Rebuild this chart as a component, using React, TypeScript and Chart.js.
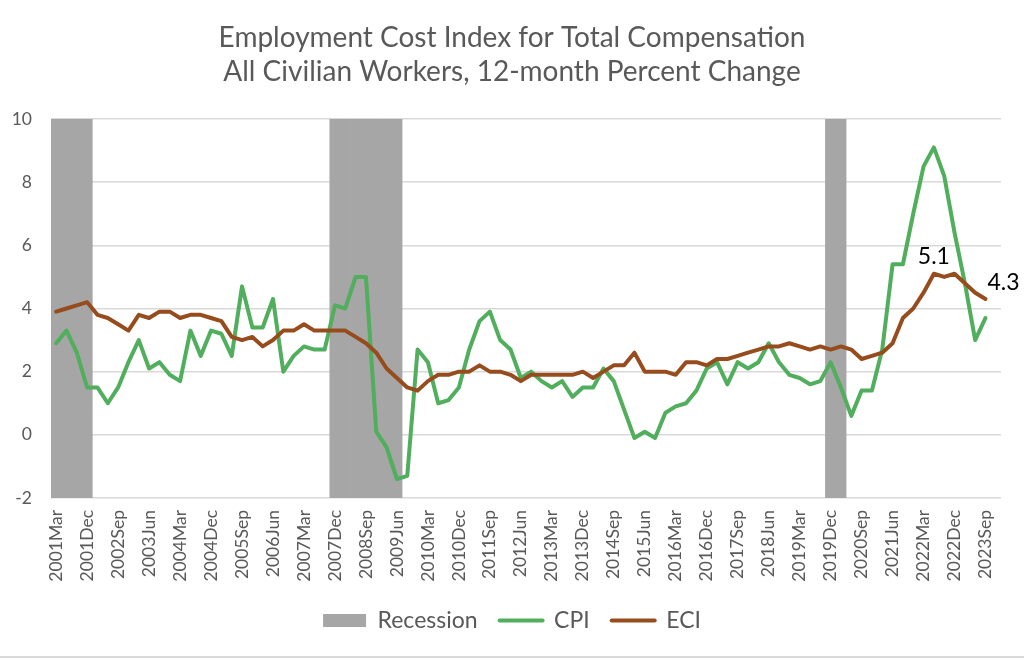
import React, { useEffect, useRef } from 'react';
import { Chart, registerables } from 'chart.js';

Chart.register(...registerables);

// ---- Data ----
const YEARS = [2001, 2002, 2003, 2004, 2005, 2006, 2007, 2008, 2009, 2010, 2011, 2012,
  2013, 2014, 2015, 2016, 2017, 2018, 2019, 2020, 2021, 2022, 2023];
const QUARTER_MONTHS = ['Mar', 'Jun', 'Sep', 'Dec'];
const CATEGORIES: string[] = YEARS.flatMap((y) => QUARTER_MONTHS.map((m) => `${y}${m}`));

const CPI = [
  2.9, 3.3, 2.6, 1.5,
  1.5, 1.0, 1.5, 2.3,
  3.0, 2.1, 2.3, 1.9,
  1.7, 3.3, 2.5, 3.3,
  3.2, 2.5, 4.7, 3.4,
  3.4, 4.3, 2.0, 2.5,
  2.8, 2.7, 2.7, 4.1,
  4.0, 5.0, 5.0, 0.1,
  -0.4, -1.4, -1.3, 2.7,
  2.3, 1.0, 1.1, 1.5,
  2.7, 3.6, 3.9, 3.0,
  2.7, 1.8, 2.0, 1.7,
  1.5, 1.7, 1.2, 1.5,
  1.5, 2.1, 1.7, 0.8,
  -0.1, 0.1, -0.1, 0.7,
  0.9, 1.0, 1.4, 2.1,
  2.3, 1.6, 2.3, 2.1,
  2.3, 2.9, 2.3, 1.9,
  1.8, 1.6, 1.7, 2.3,
  1.5, 0.6, 1.4, 1.4,
  2.7, 5.4, 5.4, 7.0,
  8.5, 9.1, 8.2, 6.4,
  4.8, 3.0, 3.7,
];

const ECI = [
  3.9, 4.0, 4.1, 4.2,
  3.8, 3.7, 3.5, 3.3,
  3.8, 3.7, 3.9, 3.9,
  3.7, 3.8, 3.8, 3.7,
  3.6, 3.1, 3.0, 3.1,
  2.8, 3.0, 3.3, 3.3,
  3.5, 3.3, 3.3, 3.3,
  3.3, 3.1, 2.9, 2.6,
  2.1, 1.8, 1.5, 1.4,
  1.7, 1.9, 1.9, 2.0,
  2.0, 2.2, 2.0, 2.0,
  1.9, 1.7, 1.9, 1.9,
  1.9, 1.9, 1.9, 2.0,
  1.8, 2.0, 2.2, 2.2,
  2.6, 2.0, 2.0, 2.0,
  1.9, 2.3, 2.3, 2.2,
  2.4, 2.4, 2.5, 2.6,
  2.7, 2.8, 2.8, 2.9,
  2.8, 2.7, 2.8, 2.7,
  2.8, 2.7, 2.4, 2.5,
  2.6, 2.9, 3.7, 4.0,
  4.5, 5.1, 5.0, 5.1,
  4.8, 4.5, 4.3,
];

// recession periods (first and last quarter shaded)
const RECESSIONS: [string, string][] = [
  ['2001Mar', '2001Dec'],
  ['2007Dec', '2009Jun'],
  ['2019Dec', '2020Mar'],
];

// ECI points that carry a value label
const ECI_LABEL_POINTS = ['2022Jun', '2023Sep'];

const Y_MIN = -2;
const Y_MAX = 10;
const Y_STEP = 2;
const LABEL_EVERY = 3;

const TITLE_LINES = ['Employment Cost Index for Total Compensation', 'All Civilian Workers, 12-month Percent Change'];

const COLORS = {
  recession: '#a6a6a6',
  cpi: '#50ae5c',
  eci: '#974c1e',
  text: '#595959',
  grid: '#d9d9d9',
};

const FONT = 'Lato, "Open Sans", sans-serif';

export default function App() {
  const canvasRef = useRef<HTMLCanvasElement | null>(null);

  useEffect(() => {
    document.body.style.margin = '0';
    const canvas = canvasRef.current;
    if (!canvas) return;

    const recessionData = CATEGORIES.map((c, i) => {
      const inside = RECESSIONS.some(([a, b]) => i >= CATEGORIES.indexOf(a) && i <= CATEGORIES.indexOf(b));
      return inside ? [Y_MIN, Y_MAX] : null;
    });

    const labelIdx = ECI_LABEL_POINTS.map((c) => CATEGORIES.indexOf(c));

    const valueLabels = {
      id: 'valueLabels',
      afterDatasetsDraw(chart: any) {
        const meta = chart.getDatasetMeta(2);
        const ctx = chart.ctx;
        ctx.save();
        ctx.fillStyle = '#000000';
        ctx.font = `23px ${FONT}`;
        ctx.textBaseline = 'middle';
        labelIdx.forEach((idx, k) => {
          const pt = meta.data[idx];
          if (!pt) return;
          const txt = ECI[idx].toFixed(1);
          if (k === 0) {
            ctx.textAlign = 'center';
            ctx.fillText(txt, pt.x, pt.y - 17);
          } else {
            ctx.textAlign = 'left';
            ctx.fillText(txt, pt.x + 2, pt.y - 16);
          }
        });
        ctx.restore();
      },
    };

    const chart = new Chart(canvas, {
      data: {
        labels: CATEGORIES,
        datasets: [
          {
            type: 'bar',
            label: 'Recession',
            data: recessionData as any,
            backgroundColor: COLORS.recession,
            borderWidth: 0,
            barPercentage: 1,
            categoryPercentage: 1,
            order: 3,
          },
          {
            type: 'line',
            label: 'CPI',
            data: CPI,
            borderColor: COLORS.cpi,
            backgroundColor: COLORS.cpi,
            borderWidth: 4,
            pointRadius: 0,
            tension: 0,
            borderJoinStyle: 'round',
            borderCapStyle: 'round',
            order: 2,
          },
          {
            type: 'line',
            label: 'ECI',
            data: ECI,
            borderColor: COLORS.eci,
            backgroundColor: COLORS.eci,
            borderWidth: 4,
            pointRadius: 0,
            tension: 0,
            borderJoinStyle: 'round',
            borderCapStyle: 'round',
            order: 1,
          },
        ],
      },
      options: {
        responsive: false,
        animation: false,
        maintainAspectRatio: false,
        layout: { padding: { left: 0, right: 0, top: 0, bottom: 14 } },
        plugins: {
          tooltip: { enabled: false },
          title: {
            display: true,
            text: TITLE_LINES,
            color: COLORS.text,
            font: { family: FONT, size: 28, weight: 'normal', lineHeight: 1.214 },
            padding: { top: 21, bottom: 30 },
          },
          legend: {
            position: 'bottom',
            labels: {
              usePointStyle: true,
              pointStyleWidth: 43,
              boxHeight: 13,
              padding: 22,
              color: COLORS.text,
              font: { family: FONT, size: 23 },
              generateLabels: (ch: any) =>
                ch.data.datasets.map((ds: any, i: number) => ({
                  text: ds.label,
                  fillStyle: i === 0 ? COLORS.recession : 'rgba(0,0,0,0)',
                  strokeStyle: i === 0 ? COLORS.recession : ds.borderColor,
                  lineWidth: i === 0 ? 0 : 4,
                  lineCap: 'round',
                  pointStyle: i === 0 ? 'rect' : 'line',
                  hidden: false,
                  datasetIndex: i,
                  fontColor: COLORS.text,
                })),
            },
          },
        },
        scales: {
          x: {
            grid: { display: false, drawTicks: false },
            border: { display: false },
            afterFit: (s: any) => {
              s.height = 89;
            },
            ticks: {
              autoSkip: false,
              minRotation: 90,
              maxRotation: 90,
              padding: 12,
              color: COLORS.text,
              font: { family: FONT, size: 17.5 },
              callback: function (this: any, value: any, index: number) {
                return index % LABEL_EVERY === 0 ? this.getLabelForValue(value) : null;
              },
            },
          },
          y: {
            min: Y_MIN,
            max: Y_MAX,
            afterFit: (s: any) => {
              s.width = 51;
            },
            grid: { color: COLORS.grid, lineWidth: 1.5, drawTicks: false },
            border: { display: false },
            ticks: {
              stepSize: Y_STEP,
              padding: 19,
              color: COLORS.text,
              font: { family: FONT, size: 17.5 },
            },
          },
          // empty right-hand margin of the plot frame
          yMargin: {
            position: 'right',
            display: true,
            grid: { display: false, drawTicks: false },
            border: { display: false },
            ticks: { display: false },
            afterFit: (s: any) => {
              s.width = 23;
            },
          },
        },
      },
      plugins: [valueLabels],
    } as any);

    return () => chart.destroy();
  }, []);

  return (
    <div style={{ width: 1024, height: 656, borderBottom: '2px solid #d9d9d9', background: '#fff' }}>
      <canvas ref={canvasRef} width={1024} height={656} style={{ display: 'block' }} />
    </div>
  );
}
